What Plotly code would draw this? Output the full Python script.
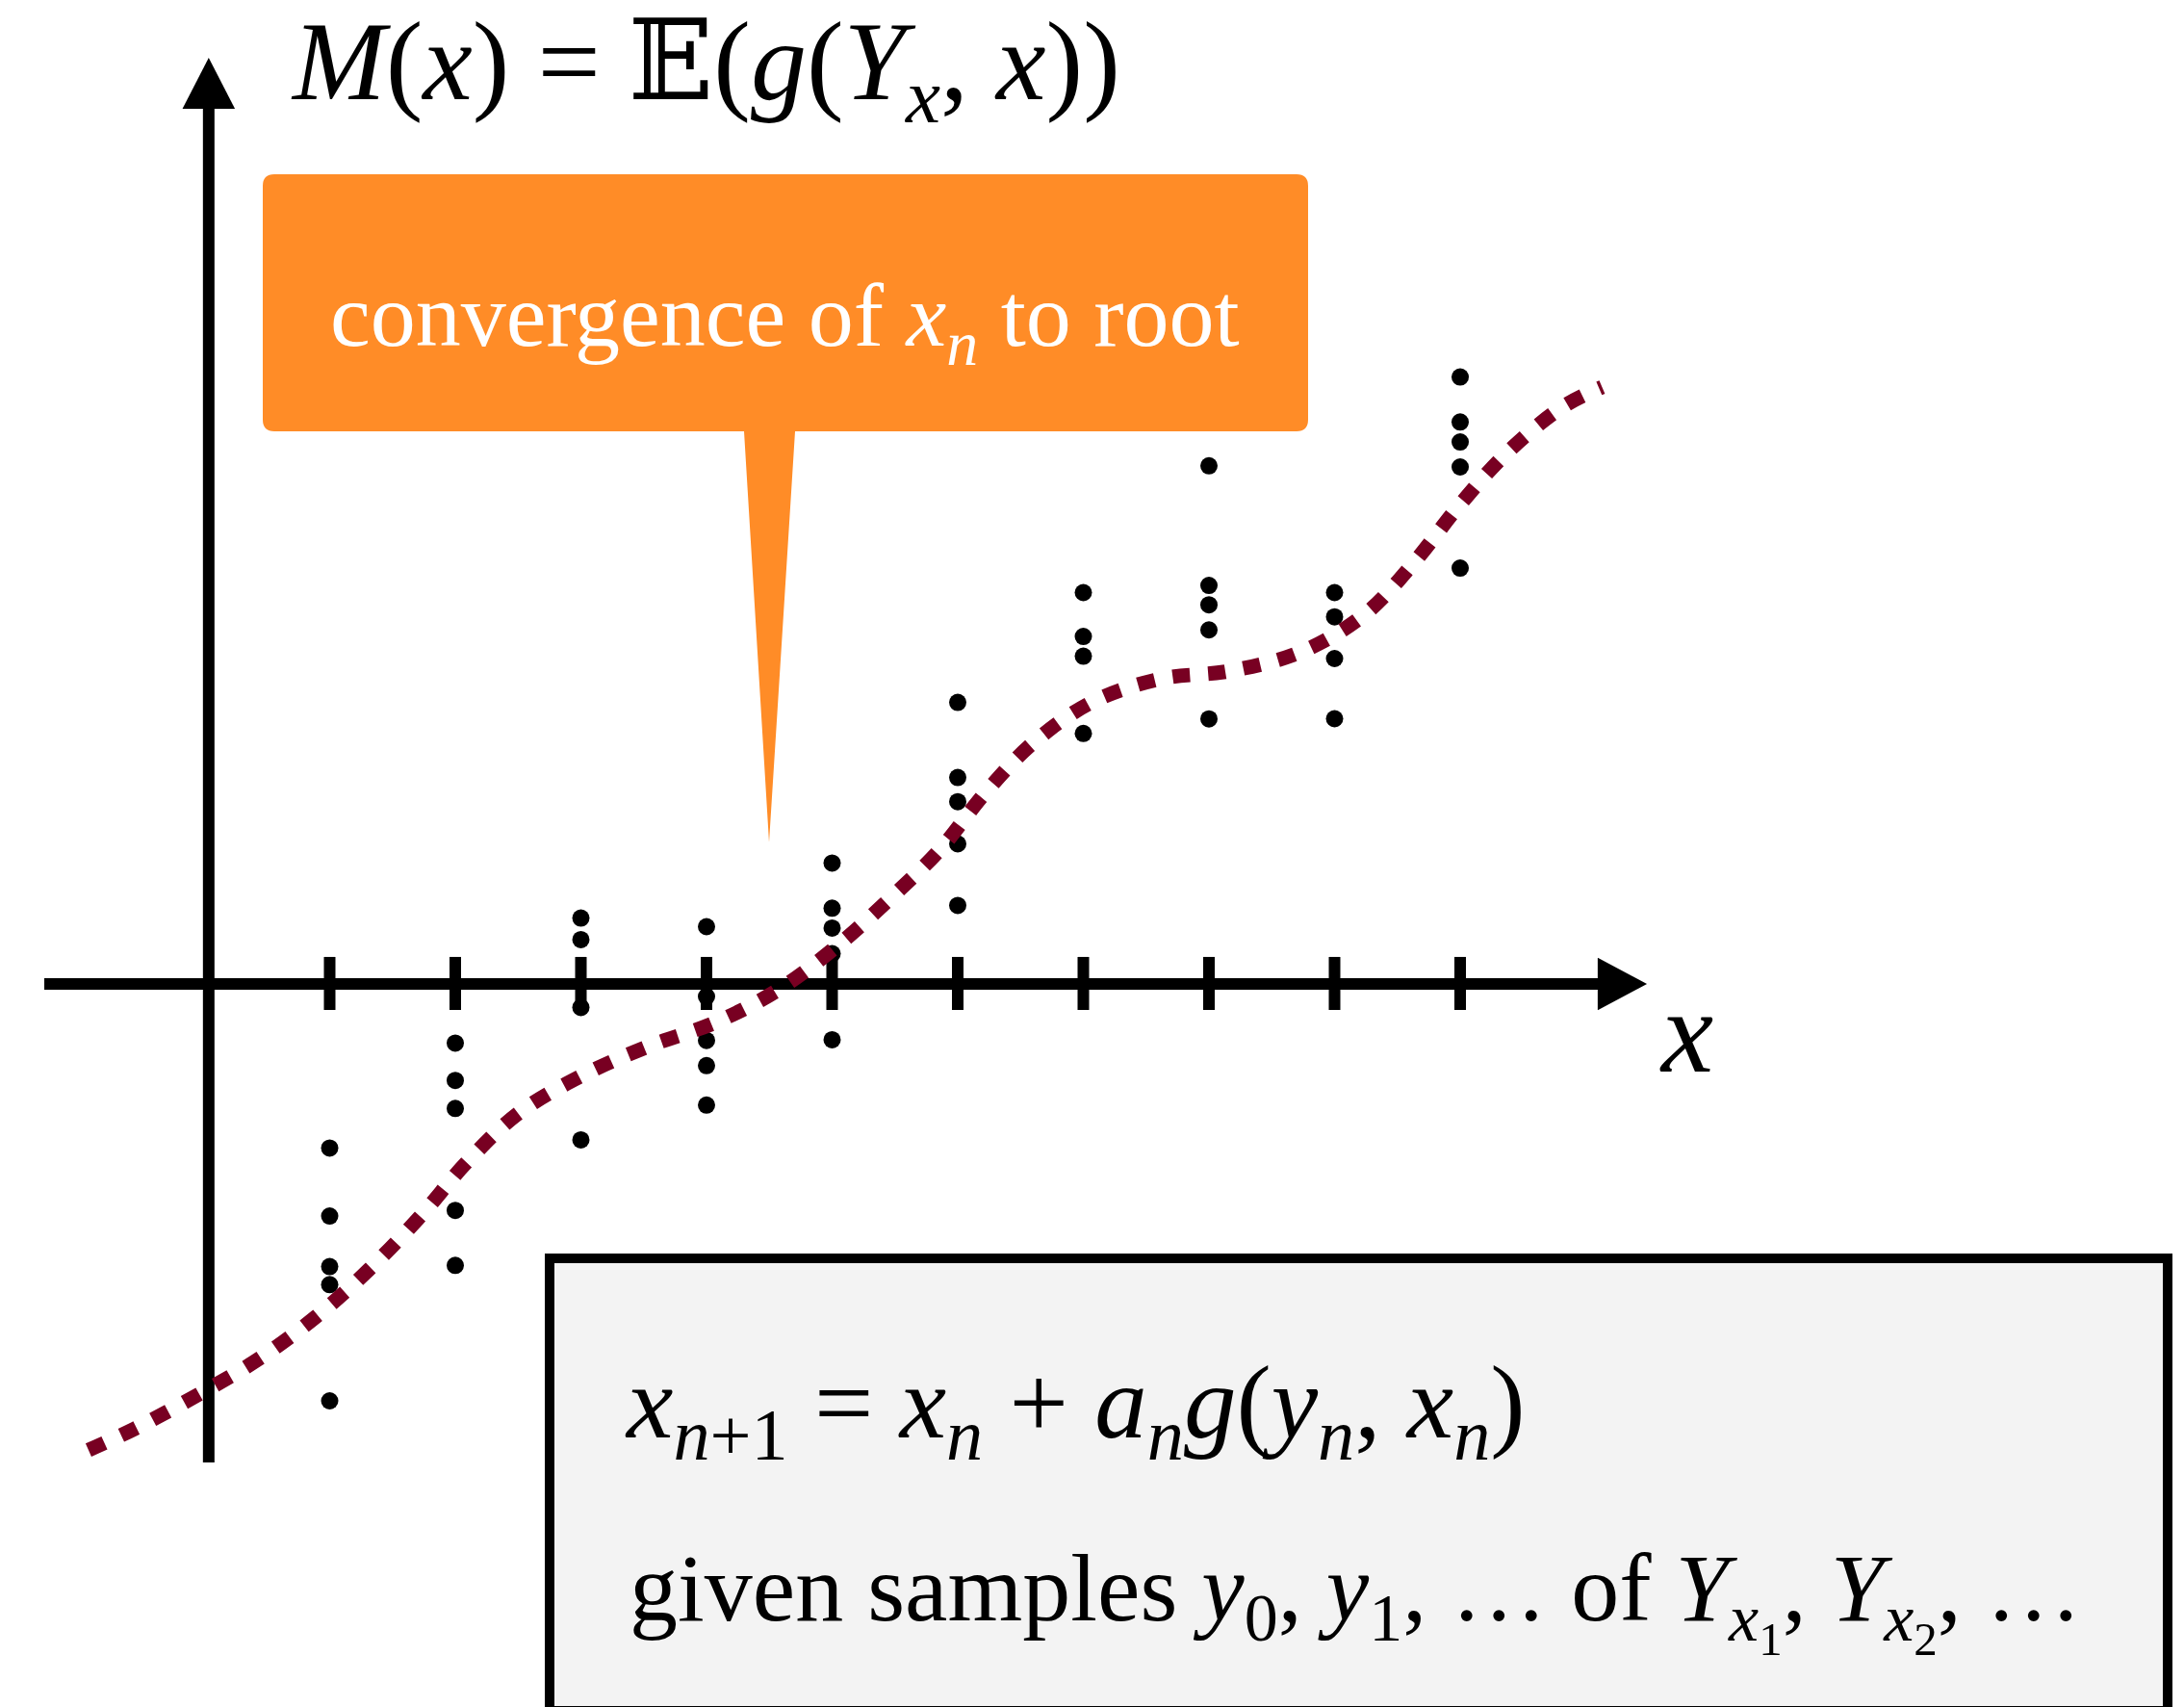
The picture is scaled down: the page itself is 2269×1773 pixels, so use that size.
import plotly.graph_objects as go

W, H = 2269, 1773
FONT = "Liberation Serif, DejaVu Serif, serif"

# Data frame: one tick spacing along x is one unit; same scale vertically.
X_RANGE = [-1.6245, 15.7625]
Y_RANGE = [-5.7548, 7.8314]

# Smooth mean function M(x)
curve_x = [-0.92, -0.552, -0.038, 0.429, 0.889, 1.310, 1.724, 2.092, 2.506, 2.996,
           3.533, 4.069, 4.559, 5.027, 5.464, 5.854, 6.222, 6.605, 7.073, 7.617,
           8.161, 8.736, 9.241, 9.640, 9.992, 10.375, 10.812, 11.13]
curve_y = [-3.71, -3.540, -3.264, -2.989, -2.651, -2.276, -1.847, -1.418, -1.027, -0.736,
           -0.498, -0.307, -0.054, 0.291, 0.682, 1.065, 1.525, 1.923, 2.245, 2.429,
           2.490, 2.644, 2.943, 3.364, 3.808, 4.230, 4.590, 4.75]

# Iterates x_1 ... x_10 and the noisy samples drawn at each of them
iterates = [1, 2, 3, 4, 5, 6, 7, 8, 9, 10]
samples = [
    [-1.306, -1.847, -2.250, -2.393, -3.318],
    [-0.471, -0.768, -0.991, -1.802, -2.240],
    [0.524, 0.353, -0.187, -1.241],
    [0.456, -0.100, -0.450, -0.650, -0.964],
    [0.962, 0.603, 0.445, 0.241, -0.444],
    [2.241, 1.643, 1.451, 1.115, 0.625],
    [3.115, 2.766, 2.609, 1.994],
    [4.124, 3.172, 3.018, 2.818, 2.110],
    [3.115, 2.922, 2.590, 2.111],
    [4.831, 4.473, 4.314, 4.115, 3.310],
]

# Axis geometry (data units)
X_AXIS_START, X_AXIS_END, X_ARROW_TIP = -1.272, 11.10, 11.487
Y_AXIS_X = 0.037
Y_AXIS_START, Y_AXIS_END, Y_ARROW_TIP = -3.808, 6.97, 7.372
ARROW_HALF = 0.209
TICK_UP, TICK_DOWN = 0.215, -0.207
AXIS_WIDTH = 12

fig = go.Figure()

xs, ys = [], []
for x, col in zip(iterates, samples):
    xs += [x] * len(col)
    ys += col
fig.add_trace(go.Scatter(x=xs, y=ys, mode="markers",
                         marker=dict(size=18, color="black", line=dict(width=0)),
                         hoverinfo="skip"))
fig.add_trace(go.Scatter(x=curve_x, y=curve_y, mode="lines",
                         line=dict(color="#780022", width=15, dash="18px,19px",
                                   shape="spline", smoothing=1),
                         hoverinfo="skip"))

shapes = []
# x axis with arrow
shapes.append(dict(type="line", xref="x", yref="y", x0=X_AXIS_START, x1=X_AXIS_END, y0=0, y1=0,
                   line=dict(color="black", width=AXIS_WIDTH), layer="below"))
shapes.append(dict(type="path", xref="x", yref="y",
                   path=f"M {X_AXIS_END - 0.005},{ARROW_HALF} L {X_ARROW_TIP},0 L {X_AXIS_END - 0.005},{-ARROW_HALF} Z",
                   fillcolor="black", line=dict(width=0), layer="below"))
# y axis with arrow
shapes.append(dict(type="line", xref="x", yref="y", x0=Y_AXIS_X, x1=Y_AXIS_X, y0=Y_AXIS_START, y1=Y_AXIS_END,
                   line=dict(color="black", width=AXIS_WIDTH), layer="below"))
shapes.append(dict(type="path", xref="x", yref="y",
                   path=f"M {Y_AXIS_X - ARROW_HALF},{Y_AXIS_END - 0.005} L {Y_AXIS_X},{Y_ARROW_TIP} L {Y_AXIS_X + ARROW_HALF},{Y_AXIS_END - 0.005} Z",
                   fillcolor="black", line=dict(width=0), layer="below"))
# tick marks at each iterate
for t in iterates:
    shapes.append(dict(type="line", xref="x", yref="y", x0=t, x1=t, y0=TICK_DOWN, y1=TICK_UP,
                       line=dict(color="black", width=AXIS_WIDTH), layer="below"))


def P(px, py):
    return f"{px / W:.5f},{1 - py / H:.5f}"


# Orange speech-bubble callout (pixel layout -> paper units)
L, R, T, B, r = 273, 1359, 181, 448, 12
callout_path = (
    f"M {P(L + r, T)} L {P(R - r, T)} Q {P(R, T)} {P(R, T + r)} "
    f"L {P(R, B - r)} Q {P(R, B)} {P(R - r, B)} "
    f"L {P(826, B)} L {P(799, 875)} L {P(773, B)} "
    f"L {P(L + r, B)} Q {P(L, B)} {P(L, B - r)} "
    f"L {P(L, T + r)} Q {P(L, T)} {P(L + r, T)} Z"
)
shapes.append(dict(type="path", xref="paper", yref="paper", path=callout_path,
                   fillcolor="#FF8C27", line=dict(width=0)))

# Update-rule box
shapes.append(dict(type="rect", xref="paper", yref="paper",
                   x0=571 / W, x1=2252 / W, y0=1 - 1777 / H, y1=1 - 1307 / H,
                   fillcolor="#F3F3F3", line=dict(color="black", width=10)))


def ann(text, px, py, size, color="black", xanchor="left"):
    return dict(x=px / W, y=1 - py / H, xref="paper", yref="paper", text=text,
                showarrow=False, xanchor=xanchor, yanchor="middle",
                font=dict(family=FONT, size=size, color=color))


annotations = [
    ann("<i>M</i>(<i>x</i>) = 𝔼(<i>g</i>(<i>Y</i><sub><i>x</i></sub>, <i>x</i>))", 300, 73, 116),
    ann("convergence of <i>x</i><sub><i>n</i></sub> to root", 815, 334, 94, "white", "center"),
    ann("<i>x</i>", 1722, 1071, 122),
    ann("<i>x</i><sub><i>n</i>+1</sub> = <i>x</i><sub><i>n</i></sub> + <i>a</i><sub><i>n</i></sub>"
        "<i>g</i>(<i>y</i><sub><i>n</i></sub>, <i>x</i><sub><i>n</i></sub>)", 647, 1464, 109),
    ann("given samples <i>y</i><sub>0</sub>, <i>y</i><sub>1</sub>, … of "
        "<i>Y</i><sub><i>x</i><sub>1</sub></sub>, <i>Y</i><sub><i>x</i><sub>2</sub></sub>, …",
        652, 1662, 100),
]

fig.update_layout(
    width=W, height=H, margin=dict(l=0, r=0, t=0, b=0),
    paper_bgcolor="white", plot_bgcolor="white", showlegend=False,
    xaxis=dict(range=X_RANGE, visible=False, fixedrange=True),
    yaxis=dict(range=Y_RANGE, visible=False, fixedrange=True),
    shapes=shapes, annotations=annotations,
)

fig.write_html("out.html", config={"displayModeBar": False, "staticPlot": True},
               post_script="document.body.style.margin='0';")
